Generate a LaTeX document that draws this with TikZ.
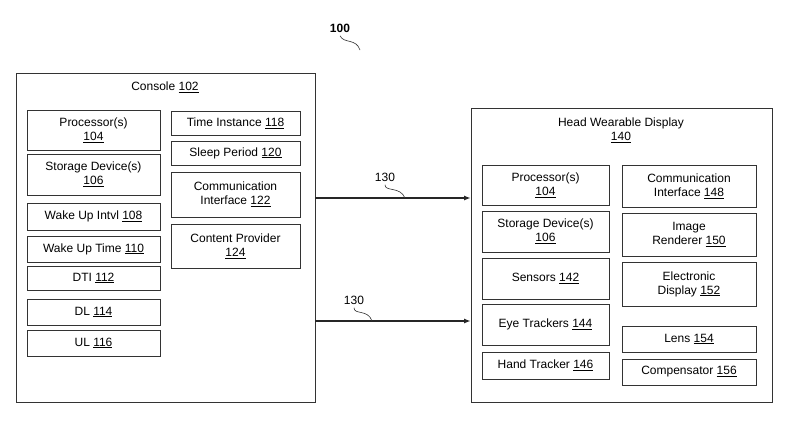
\documentclass[tikz,border=0pt]{standalone}
\usepackage{fontspec}
\setmainfont{Liberation Sans}
\usetikzlibrary{arrows.meta}
\tikzset{
  box/.style={draw=black!80, line width=0.8pt, align=center, inner sep=1pt, font=\fontsize{12}{14}\selectfont},
  link/.style={draw=black!85, line width=1.4pt, -{Latex[length=7pt,width=5pt]}},
  squig/.style={draw=black!80, line width=0.6pt},
  lbl/.style={font=\fontsize{12}{14}\selectfont}
}
\newcommand{\bx}[6]{\node[box, minimum width={#4-#2}, minimum height={#5-#3}] (#1) at ({(#2+#4)/2},{(#3+#5)/2}) {#6};}
\begin{document}
\begin{tikzpicture}[x=1pt,y=-1pt]
\useasboundingbox (0,0) rectangle (790,421);

% Console
\draw[black!80, line width=0.8pt] (16,73) rectangle (315,402);
\node[lbl] (con) at (165,87) {Console \underline{102}};
\bx{proc}{27}{110}{160}{150}{Processor(s)\\\underline{104}}
\bx{stor}{27}{154}{160}{195}{Storage Device(s)\\\underline{106}}
\bx{wui}{27}{203}{160}{230}{Wake Up Intvl \underline{108}}
\bx{wut}{27}{236}{160}{262}{Wake Up Time \underline{110}}
\bx{dti}{27}{266}{160}{290}{DTI \underline{112}}
\bx{dl}{27}{299}{160}{325}{DL \underline{114}}
\bx{ul}{27}{330}{160}{356}{UL \underline{116}}
\bx{ti}{171}{111}{300}{135}{Time Instance \underline{118}}
\bx{sp}{171}{141}{300}{165}{Sleep Period \underline{120}}
\bx{ci}{171}{172}{300}{217}{Communication\\Interface \underline{122}}
\bx{cp}{171}{224}{300}{268}{Content Provider\\\underline{124}}

% Head wearable display
\draw[black!80, line width=0.8pt] (471,108) rectangle (772,402);
\node[lbl, align=center] (hwd) at (621,130) {Head Wearable Display\\\underline{140}};
\bx{hproc}{482}{165}{609}{205}{Processor(s)\\\underline{104}}
\bx{hstor}{482}{211}{609}{252}{Storage Device(s)\\\underline{106}}
\bx{sens}{482}{258}{609}{299}{Sensors \underline{142}}
\bx{eye}{482}{304}{609}{345}{Eye Trackers \underline{144}}
\bx{hand}{482}{352}{609}{379}{Hand Tracker \underline{146}}
\bx{hci}{622}{165}{756}{207}{Communication\\Interface \underline{148}}
\bx{ir}{622}{213}{756}{256}{Image\\Renderer \underline{150}}
\bx{ed}{622}{262}{756}{306}{Electronic\\Display \underline{152}}
\bx{lens}{622}{326}{756}{352}{Lens \underline{154}}
\bx{comp}{622}{359}{756}{385}{Compensator \underline{156}}

% links
\coordinate (a1) at (315,198);
\coordinate (b1) at (471,198);
\coordinate (a2) at (315,321);
\coordinate (b2) at (471,321);
\draw[link] (a1) -- (b1);
\draw[link] (a2) -- (b2);
\node[lbl] (l1) at (385,177) {130};
\node[lbl] (l2) at (354,300) {130};
\draw[squig] (l1.south) .. controls (385,192) and (400,186) .. (405,198);
\draw[squig] (l2.south) .. controls (354,315) and (368,309) .. (372,321);

% figure number
\node[font=\bfseries\fontsize{12}{14}\selectfont] (fig) at (340,28) {100};
\draw[squig] (fig.south) .. controls (344,44) and (356,38) .. (360,50);
\end{tikzpicture}
\end{document}
